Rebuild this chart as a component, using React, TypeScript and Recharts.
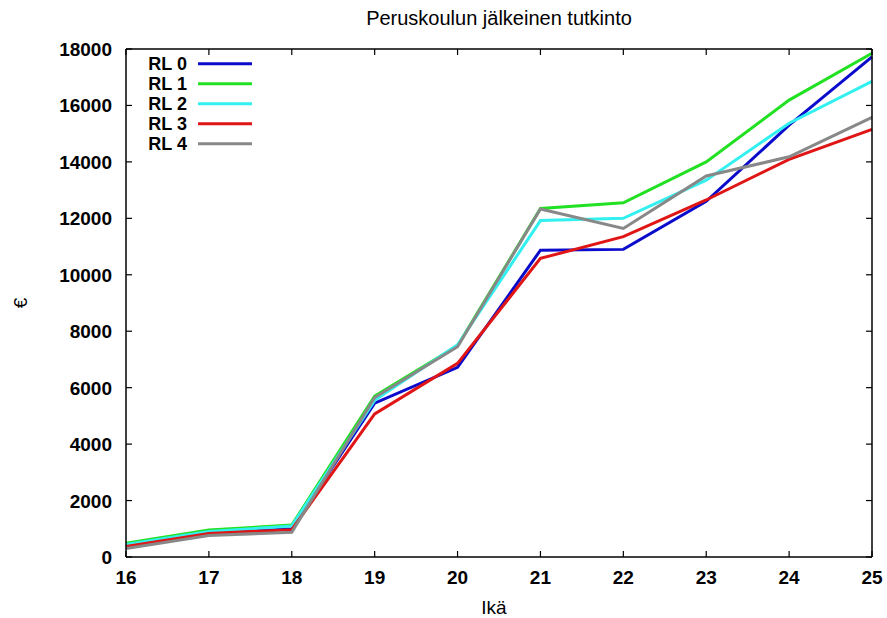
import React from 'react';
import { LineChart, Line, XAxis, YAxis, Legend } from 'recharts';

const ages = [16, 17, 18, 19, 20, 21, 22, 23, 24, 25];
const rl0 = [420, 850, 1000, 5450, 6720, 10870, 10900, 12600, 15300, 17720];
const rl1 = [490, 960, 1130, 5700, 7480, 12350, 12550, 14000, 16190, 17850];
const rl2 = [440, 900, 1100, 5550, 7520, 11920, 12000, 13350, 15370, 16850];
const rl3 = [370, 830, 970, 5070, 6860, 10580, 11350, 12650, 14090, 15150];
const rl4 = [300, 760, 880, 5650, 7450, 12330, 11640, 13500, 14180, 15580];
const xTicks = ages;
const yTicks = [0, 2000, 4000, 6000, 8000, 10000, 12000, 14000, 16000, 18000];

const seriesNames = ['RL 0', 'RL 1', 'RL 2', 'RL 3', 'RL 4'];
const seriesKeys = ['rl0', 'rl1', 'rl2', 'rl3', 'rl4'];
const seriesColors = ['#0b0bcc', '#22e022', '#33f0f0', '#e01515', '#888888'];
const seriesValues = [rl0, rl1, rl2, rl3, rl4];

const data = ages.map((age, i) => {
  const row: Record<string, number> = { age };
  seriesKeys.forEach((k, s) => {
    row[k] = seriesValues[s][i];
  });
  return row;
});

const FONT = '"Liberation Sans", Arial, Helvetica, sans-serif';
const TICK_LEN = 6;

const BottomTick = (props: any) => {
  const { x, y, payload } = props;
  return (
    <g>
      <line x1={x} x2={x} y1={y} y2={y - TICK_LEN} stroke="#000" strokeWidth={1.2} />
      <text x={x} y={y + 27} textAnchor="middle" fontFamily={FONT} fontSize={19} fontWeight="bold" fill="#000">
        {payload.value}
      </text>
    </g>
  );
};

const TopTick = (props: any) => {
  const { x, y } = props;
  return <line x1={x} x2={x} y1={y} y2={y + TICK_LEN} stroke="#000" strokeWidth={1.2} />;
};

const LeftTick = (props: any) => {
  const { x, y, payload } = props;
  return (
    <g>
      <line x1={x} x2={x + TICK_LEN} y1={y} y2={y} stroke="#000" strokeWidth={1.2} />
      <text x={x - 14} y={y + 7} textAnchor="end" fontFamily={FONT} fontSize={19} fontWeight="bold" fill="#000">
        {payload.value}
      </text>
    </g>
  );
};

const RightTick = (props: any) => {
  const { x, y } = props;
  return <line x1={x} x2={x - TICK_LEN} y1={y} y2={y} stroke="#000" strokeWidth={1.2} />;
};

const LegendContent = () => (
  <svg width={130} height={115} style={{ display: 'block', overflow: 'visible' }}>
    {seriesNames.map((name, i) => (
      <g key={name}>
        <text x={52} y={20 + i * 20} textAnchor="end" fontFamily={FONT} fontSize={18} fontWeight="bold" fill="#000">
          {name}
        </text>
        <line x1={63} x2={117} y1={13.7 + i * 20} y2={13.7 + i * 20} stroke={seriesColors[i]} strokeWidth={3} />
      </g>
    ))}
  </svg>
);

const TextLabels = () => (
  <g>
    <text x={499} y={25} textAnchor="middle" fontFamily={FONT} fontSize={20} fill="#000">
      Peruskoulun jälkeinen tutkinto
    </text>
    <text x={494} y={614} textAnchor="middle" fontFamily={FONT} fontSize={19} fill="#000">
      Ikä
    </text>
  </g>
);

export default function App() {
  return (
    <div style={{ position: 'absolute', left: 0, top: 0, width: 887, height: 618, background: '#fff' }}>
      <LineChart width={887} height={618} data={data} margin={{ top: 48, right: 14, left: 0, bottom: 0 }}>
        <XAxis
          dataKey="age"
          type="number"
          domain={[16, 25]}
          ticks={xTicks}
          height={61}
          tickSize={0}
          tickMargin={0}
          tick={<BottomTick />}
          axisLine={{ stroke: '#000', strokeWidth: 1.5 }}
          interval={0}
          label={{ content: () => <TextLabels /> }}
        />
        <XAxis
          xAxisId="top"
          orientation="top"
          dataKey="age"
          type="number"
          domain={[16, 25]}
          ticks={xTicks}
          height={1}
          tickSize={0}
          tickMargin={0}
          tick={<TopTick />}
          axisLine={{ stroke: '#000', strokeWidth: 1.5 }}
          interval={0}
        />
        <YAxis
          type="number"
          domain={[0, 18000]}
          ticks={yTicks}
          width={126}
          tickSize={0}
          tickMargin={0}
          tick={<LeftTick />}
          axisLine={{ stroke: '#000', strokeWidth: 1.5 }}
          interval={0}
          label={{
            content: () => (
              <text
                x={20}
                y={303}
                textAnchor="middle"
                dominantBaseline="central"
                fontFamily={FONT}
                fontSize={19}
                fill="#000"
                transform="rotate(-90 20 303)"
              >
                €
              </text>
            ),
          }}
        />
        <YAxis
          yAxisId="right"
          orientation="right"
          type="number"
          domain={[0, 18000]}
          ticks={yTicks}
          width={1}
          tickSize={0}
          tickMargin={0}
          tick={<RightTick />}
          axisLine={{ stroke: '#000', strokeWidth: 1.5 }}
          interval={0}
        />
        <Legend
          layout="horizontal"
          verticalAlign="middle"
          align="center"
          content={<LegendContent />}
          wrapperStyle={{ position: 'absolute', left: 135, top: 50, width: 130, height: 115 }}
        />
        {seriesKeys.map((k, i) => (
          <Line
            key={k}
            dataKey={k}
            name={seriesNames[i]}
            type="linear"
            xAxisId={i === 4 ? 'top' : 0}
            yAxisId={i === 4 ? 'right' : 0}
            stroke={seriesColors[i]}
            strokeWidth={3}
            dot={false}
            activeDot={false}
            isAnimationActive={false}
          />
        ))}
      </LineChart>
    </div>
  );
}
